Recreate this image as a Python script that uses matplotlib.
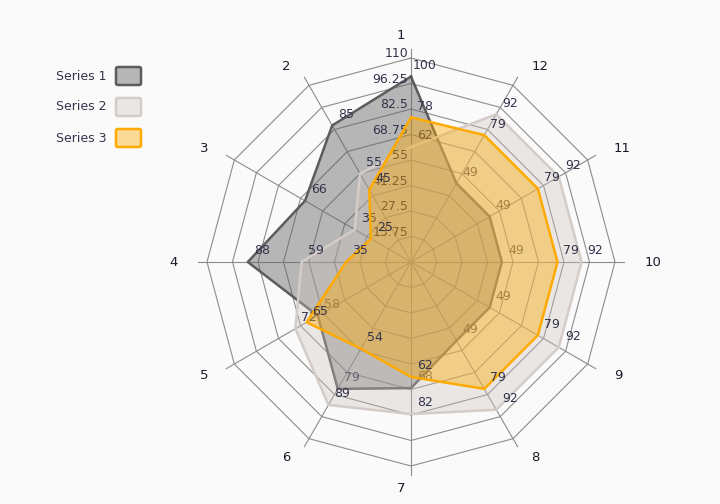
import numpy as np
import matplotlib.pyplot as plt
from matplotlib.patches import FancyBboxPatch

categories = ['1', '2', '3', '4', '5', '6', '7', '8', '9', '10', '11', '12']
series_names = ['Series 1', 'Series 2', 'Series 3']
series1 = [100, 85, 66, 88, 58, 79, 68, 49, 49, 49, 49, 49]
series2 = [62, 55, 35, 59, 72, 89, 82, 92, 92, 92, 92, 92]
series3 = [78, 45, 25, 35, 65, 54, 62, 79, 79, 79, 79, 79]
r_ticks = [13.75, 27.5, 41.25, 55, 68.75, 82.5, 96.25, 110]
r_tick_labels = ['13.75', '27.5', '41.25', '55', '68.75', '82.5', '96.25', '110']

fills = [(0.39, 0.39, 0.39, 0.45), (0.80, 0.76, 0.74, 0.35), (1.0, 0.667, 0.0, 0.4)]
edges = ['#5c5c5c', '#d4ccc8', '#ffaa00']

plt.rcParams['font.family'] = ['DejaVu Sans']
fig = plt.figure(figsize=(7.2, 5.04), dpi=100, facecolor='#fafafa')
ax = fig.add_axes([207 / 720, 38 / 504, 408 / 720, 408 / 504], projection='polar')
ax.set_theta_zero_location('N')
ax.set_theta_direction(1)
ax.set_ylim(0, 110)
ax.axis('off')

n = len(categories)
theta = np.arange(n) * 2 * np.pi / n
closed = np.append(theta, theta[0])

# polygon grid
for r in r_ticks:
    ax.plot(closed, [r] * (n + 1), color='#8c8c8c', lw=0.8, zorder=1, clip_on=False)
for t in theta:
    ax.plot([t, t], [0, 115], color='#8c8c8c', lw=0.8, zorder=1, clip_on=False)

# category labels (counter-clockwise, so left side gets right-aligned text)
for t, c in zip(theta, categories):
    s = -np.sin(t)
    if abs(s) < 1e-6:
        ha, dx = 'center', -7
    elif s > 0:
        ha, dx = 'left', 5
    else:
        ha, dx = 'right', -5
    ax.annotate(c, (t, 122), xytext=(dx, 0), textcoords='offset points',
                ha=ha, va='center', fontsize=9.5, color='#1a1a2a',
                annotation_clip=False)

all_series = [series1, series2, series3]
for k, vals in enumerate(all_series):
    z = 2 + 2 * k
    v = np.append(vals, vals[0])
    ax.fill(closed, v, color=fills[k], lw=0, zorder=z)
    ax.plot(closed, v, color=edges[k], lw=1.8, zorder=z + 0.1, clip_on=False)
    for t, val in zip(theta, vals):
        ax.annotate(str(val), (t, val), xytext=(10, 8), textcoords='offset points',
                    ha='center', va='center', fontsize=9, color='#33334a',
                    zorder=z + 0.5, annotation_clip=False)
    if k == 1:
        # radial tick labels along the first axis
        for r, lab in zip(r_ticks, r_tick_labels):
            ax.annotate(lab, (0, r), xytext=(-2, 3), textcoords='offset points',
                        ha='right', va='center', fontsize=9, color='#33334a',
                        zorder=z + 0.6, annotation_clip=False)

# legend
for k, name in enumerate(series_names):
    yc = 504 - (76 + 31 * k)
    box = FancyBboxPatch((116 / 720, (yc - 9) / 504), 25 / 720, 18 / 504,
                         boxstyle='round,pad=0,rounding_size=0.003',
                         transform=fig.transFigure, facecolor=fills[k],
                         edgecolor=edges[k], lw=1.8)
    fig.patches.append(box)
    fig.text(106 / 720, yc / 504, name, ha='right', va='center',
             fontsize=9, color='#33334a')

fig.savefig('out.png', dpi=100, facecolor=fig.get_facecolor())
